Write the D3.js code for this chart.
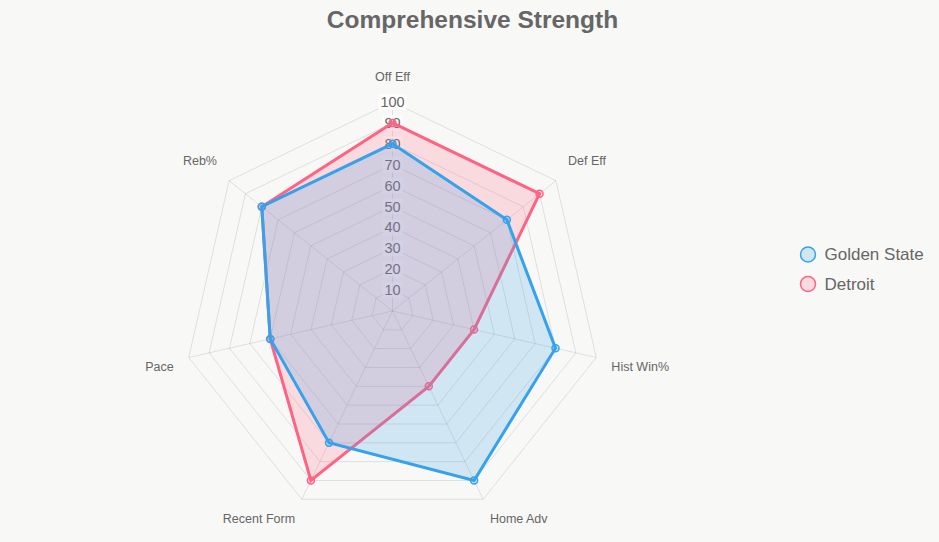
<!DOCTYPE html>
<html>
<head>
<meta charset="utf-8">
<script src="https://cdn.jsdelivr.net/npm/d3@7"></script>
<style>
	body { margin: 0; background: #f8f8f6; }
	svg { display: block; font-family: "Liberation Sans", Arial, Helvetica, sans-serif; }
</style>
</head>
<body>
<div id="chart"></div>
<script>

const axes = ["Off Eff", "Def Eff", "Hist Win%", "Home Adv", "Recent Form", "Pace", "Reb%"];
const teams = ["Golden State", "Detroit"];
const goldenState = [80, 70, 80, 90, 70, 60, 80];
const detroit = [90, 90, 40, 40, 90, 60, 80];
const ticks = [10, 20, 30, 40, 50, 60, 70, 80, 90, 100];

const colors = ["rgb(54, 162, 235)", "rgb(255, 99, 132)"];
const fills = ["rgba(54, 162, 235, 0.2)", "rgba(255, 99, 132, 0.2)"];

const width = 939, height = 542;
const cx = 392.5, cy = 311, R = 209;

let svg = d3.select("#chart")
			.append("svg")
			.attr("width", width)
			.attr("height", height);

const rScale = d3.scaleLinear().domain([0, 100]).range([0, R]);
const aScale = d3.scaleLinear().domain([0, axes.length]).range([0, 2 * Math.PI]);

function pt(i, v) {
	const a = aScale(i);
	const r = rScale(v);
	return [cx + r * Math.sin(a), cy - r * Math.cos(a)];
}

// title
svg.append("text")
	.attr("x", 472.5)
	.attr("y", 28)
	.attr("text-anchor", "middle")
	.attr("font-size", 24.5)
	.attr("font-weight", "bold")
	.attr("fill", "#666")
	.text("Comprehensive Strength");

// grid rings
let grid = svg.append("g");
grid.selectAll("polygon")
	.data(ticks)
	.enter()
	.append("polygon")
	.attr("points", t => axes.map((_, i) => pt(i, t).join(",")).join(" "))
	.attr("fill", "none")
	.attr("stroke", "rgba(0,0,0,0.1)")
	.attr("stroke-width", 1);

grid.selectAll("line")
	.data(axes)
	.enter()
	.append("line")
	.attr("x1", cx)
	.attr("y1", cy)
	.attr("x2", (d, i) => pt(i, 100)[0])
	.attr("y2", (d, i) => pt(i, 100)[1])
	.attr("stroke", "rgba(0,0,0,0.1)")
	.attr("stroke-width", 1);

// point labels
svg.append("g").selectAll("text")
	.data(axes)
	.enter()
	.append("text")
	.attr("x", (d, i) => cx + (R + 15.5) * Math.sin(aScale(i)))
	.attr("y", (d, i) => {
		const c = Math.cos(aScale(i));
		const y = cy - (R + 15.5) * c;
		return c > 0 ? y - 9 : y + 6.5;
	})
	.attr("dominant-baseline", "middle")
	.attr("text-anchor", (d, i) => {
		const s = Math.sin(aScale(i));
		return s > 0.05 ? "start" : (s < -0.05 ? "end" : "middle");
	})
	.attr("font-size", 12.5)
	.attr("fill", "#666")
	.text(d => d);

// tick labels
let tickG = svg.append("g");
tickG.selectAll("rect")
	.data(ticks)
	.enter()
	.append("rect")
	.attr("x", t => cx - (t === 100 ? 14 : 10))
	.attr("y", t => cy - rScale(t) - 8)
	.attr("width", t => t === 100 ? 28 : 20)
	.attr("height", 16)
	.attr("fill", "rgba(255,255,255,0.75)");
tickG.selectAll("text")
	.data(ticks)
	.enter()
	.append("text")
	.attr("x", cx)
	.attr("y", t => cy - rScale(t))
	.attr("dy", "0.35em")
	.attr("text-anchor", "middle")
	.attr("font-size", 14.5)
	.attr("fill", "#666")
	.text(t => t);

// datasets, first series drawn last (on top)
const series = [goldenState, detroit];
[1, 0].forEach(k => {
	const vals = series[k];
	let g = svg.append("g");
	g.append("polygon")
		.attr("points", vals.map((v, i) => pt(i, v).join(",")).join(" "))
		.attr("fill", fills[k])
		.attr("stroke", colors[k])
		.attr("stroke-width", 3)
		.attr("stroke-linejoin", "miter");
	g.selectAll("circle")
		.data(vals)
		.enter()
		.append("circle")
		.attr("cx", (v, i) => pt(i, v)[0])
		.attr("cy", (v, i) => pt(i, v)[1])
		.attr("r", 3.5)
		.attr("fill", fills[k])
		.attr("stroke", colors[k])
		.attr("stroke-width", 1.5);
});

// legend
let legend = svg.append("g").selectAll("g")
	.data(teams)
	.enter()
	.append("g")
	.attr("transform", (d, i) => `translate(808, ${254.5 + i * 29.5})`);
legend.append("circle")
	.attr("r", 7.5)
	.attr("fill", (d, i) => fills[i])
	.attr("stroke", (d, i) => colors[i])
	.attr("stroke-width", 1.5);
legend.append("text")
	.attr("x", 16.5)
	.attr("dy", "0.35em")
	.attr("font-size", 17)
	.attr("fill", "#666")
	.text(d => d);

</script>
</body>
</html>
